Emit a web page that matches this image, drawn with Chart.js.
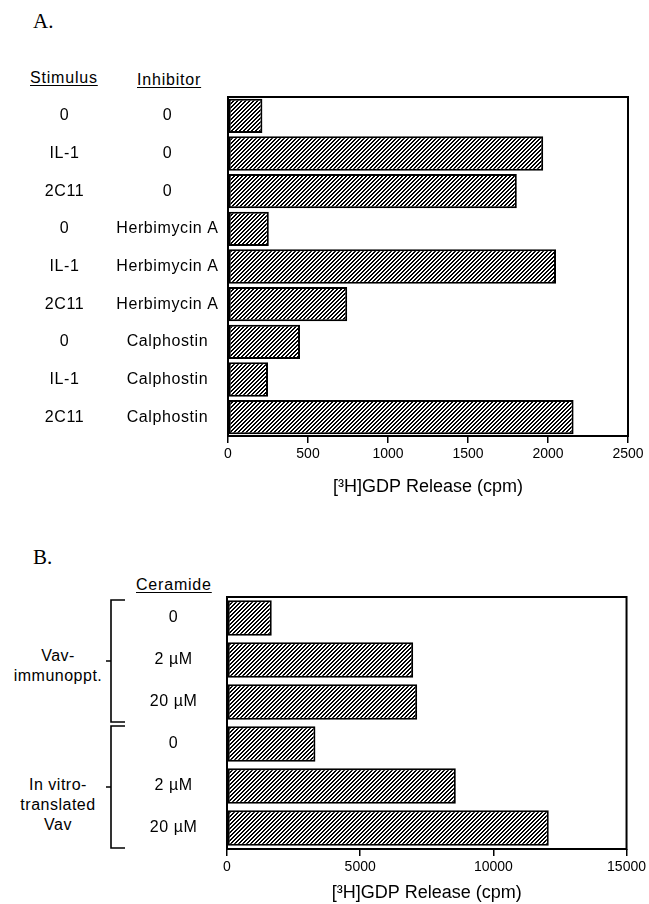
<!DOCTYPE html>
<html>
<head>
<meta charset="utf-8">
<script src="https://cdn.jsdelivr.net/npm/chart.js"></script>
<style>
  body { margin: 0; background: #fff; }
  #page { position: relative; width: 649px; height: 904px; font-family: "Liberation Sans", Arial, sans-serif; color: #000; }
  #page canvas { position: absolute; left: 0; }
  .txt { position: absolute; font-size: 16px; line-height: 16px; letter-spacing: 0.8px; white-space: nowrap; }
  .panel { position: absolute; left: 33px; font-family: "Liberation Serif", serif; font-size: 21px; line-height: 21px; }
  .hdr { text-decoration: underline; text-underline-offset: 2px; }
  .grp { text-align: center; line-height: 20px; letter-spacing: 0.5px; }
</style>
</head>
<body>
<div id="page">
  <div class="panel" style="top:11px">A.</div>
  <div class="txt hdr" style="left:30px; top:70px">Stimulus</div>
  <div class="txt hdr" style="left:137px; top:72px">Inhibitor</div>
  <canvas id="chartA" width="649" height="420" style="top:85px"></canvas>

  <div class="panel" style="top:547px">B.</div>
  <div class="txt hdr" style="left:136px; top:577px">Ceramide</div>
  <div class="txt grp" style="left:3px; width:110px; top:646px">Vav-<br>immunoppt.</div>
  <div class="txt grp" style="left:3px; width:110px; top:775px">In vitro-<br>translated<br>Vav</div>
  <canvas id="chartB" width="649" height="319" style="top:585px"></canvas>
</div>
<script>
// Panel A data
const stimulusLabels = ["0", "IL-1", "2C11", "0", "IL-1", "2C11", "0", "IL-1", "2C11"];
const inhibitorLabels = ["0", "0", "0", "Herbimycin A", "Herbimycin A", "Herbimycin A", "Calphostin", "Calphostin", "Calphostin"];
const gdpReleaseA = [215, 1970, 1805, 255, 2050, 745, 450, 250, 2160];
const ticksA = [0, 500, 1000, 1500, 2000, 2500];

// Panel B data
const ceramideLabels = ["0", "2 µM", "20 µM", "0", "2 µM", "20 µM"];
const groupLabels = ["Vav-immunoppt.", "In vitro-translated Vav"];
const groupIndexes = [[0, 2], [3, 5]];
const gdpReleaseB = [1680, 6990, 7140, 3320, 8590, 12080];
const ticksB = [0, 5000, 10000, 15000];

const axisTitle = "[³H]GDP Release (cpm)";

Chart.defaults.color = '#000';
Chart.defaults.font.family = '"Liberation Sans", Arial, sans-serif';

function hatch() {
  const tile = document.createElement('canvas');
  tile.width = 4; tile.height = 4;
  const c = tile.getContext('2d');
  c.fillStyle = '#fff';
  c.fillRect(0, 0, 4, 4);
  c.fillStyle = '#000';
  for (let x = 0; x < 4; x++) {
    for (let y = 0; y < 4; y++) {
      if ((x + y) % 4 === 0 || (x + y) % 4 === 1) c.fillRect(x, y, 1, 1);
    }
  }
  return c.createPattern(tile, 'repeat');
}

// frame round the plot + slightly wider letters for the category labels (drawn after the bars)
const framePlugin = {
  id: 'frame',
  afterDatasetsDraw(chart) {
    const {ctx, chartArea: a} = chart;
    ctx.save();
    ctx.strokeStyle = '#000';
    ctx.lineWidth = 2;
    ctx.strokeRect(a.left, a.top, a.right - a.left, a.bottom - a.top);
    ctx.restore();
    ctx.letterSpacing = '0.6px';
  },
  afterDraw(chart) {
    chart.ctx.letterSpacing = '0px';
  }
};

const bracketPlugin = {
  id: 'brackets',
  afterDraw(chart) {
    const ys = chart.scales.y;
    const ctx = chart.ctx;
    ctx.save();
    ctx.strokeStyle = '#000';
    ctx.lineWidth = 1.6;
    groupIndexes.forEach(([i0, i1]) => {
      const top = ys.getPixelForValue(i0) - 18;
      const bot = ys.getPixelForValue(i1) + 20;
      const mid = (top + bot) / 2;
      ctx.beginPath();
      ctx.moveTo(125, top); ctx.lineTo(111, top); ctx.lineTo(111, bot); ctx.lineTo(125, bot);
      ctx.moveTo(111, mid); ctx.lineTo(106, mid);
      ctx.stroke();
    });
    ctx.restore();
  }
};

function xScale(max, ticks, height, titlePad) {
  return {
    type: 'linear', min: 0, max: max,
    afterBuildTicks: s => { s.ticks = ticks.map(v => ({value: v})); },
    afterFit: s => { s.height = height; },
    ticks: { font: {size: 14}, padding: 3, maxRotation: 0, callback: v => String(v) },
    grid: { display: true, drawOnChartArea: false, drawTicks: true, tickLength: 7, color: '#000', lineWidth: 1.5 },
    border: { display: false },
    title: { display: true, text: axisTitle, font: {size: 18}, padding: {top: 0, bottom: titlePad} }
  };
}

function catScale(labels, width, pad, weight) {
  return {
    type: 'category', labels: labels, position: 'left', weight: weight, offset: true,
    afterFit: s => { s.width = width; s.paddingTop = 0; s.paddingBottom = 0; },
    grid: { display: false, drawTicks: false },
    border: { display: false },
    ticks: { font: {size: 16}, crossAlign: 'center', padding: pad, z: 1 }
  };
}

const common = {
  responsive: false,
  animation: false,
  devicePixelRatio: 1,
  plugins: { legend: {display: false}, tooltip: {enabled: false} }
};

new Chart(document.getElementById('chartA'), {
  type: 'bar',
  data: {
    labels: inhibitorLabels,
    datasets: [{
      data: gdpReleaseA,
      backgroundColor: hatch(),
      borderColor: '#000',
      borderWidth: 2,
      borderSkipped: false,
      categoryPercentage: 1,
      barPercentage: 0.91
    }]
  },
  options: {
    ...common,
    indexAxis: 'y',
    layout: { padding: {top: 12, right: 21, left: 0, bottom: 0} },
    scales: {
      x: xScale(2500, ticksA, 69, 7),
      y: catScale(inhibitorLabels, 128, 13, 0),
      y2: catScale(stimulusLabels, 100, 17, 1)
    }
  },
  plugins: [framePlugin]
});

new Chart(document.getElementById('chartB'), {
  type: 'bar',
  data: {
    labels: ceramideLabels,
    datasets: [{
      data: gdpReleaseB,
      backgroundColor: hatch(),
      borderColor: '#000',
      borderWidth: 2,
      borderSkipped: false,
      categoryPercentage: 1,
      barPercentage: 0.85
    }]
  },
  options: {
    ...common,
    indexAxis: 'y',
    layout: { padding: {top: 12, right: 22, left: 0, bottom: 0} },
    scales: {
      x: xScale(15000, ticksB, 55, 0),
      y: catScale(ceramideLabels, 227, 31, 0)
    }
  },
  plugins: [framePlugin, bracketPlugin]
});
</script>
</body>
</html>
